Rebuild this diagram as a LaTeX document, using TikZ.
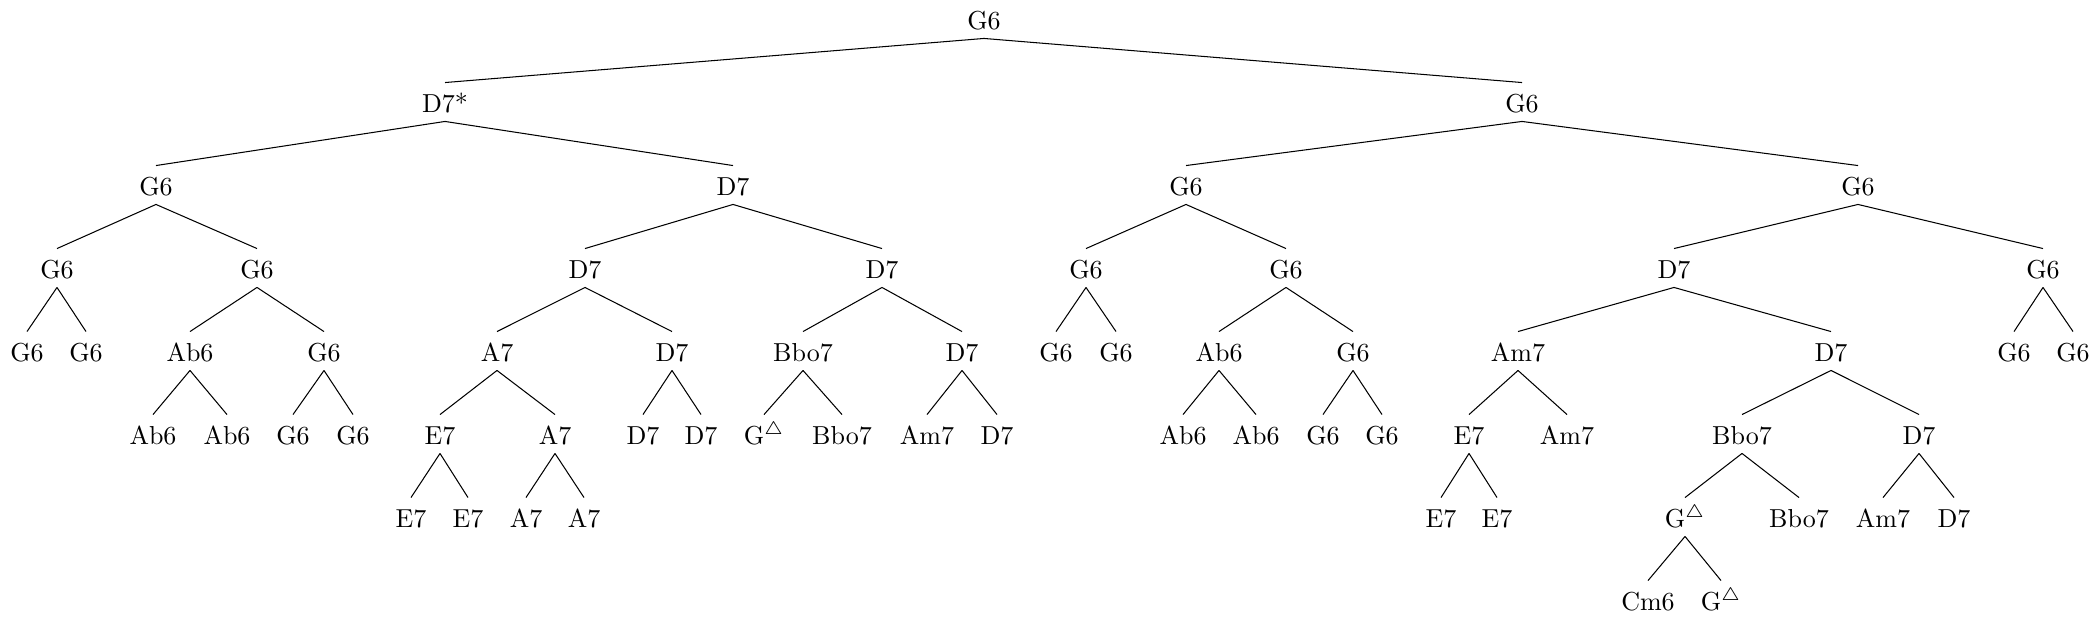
\documentclass[tikz,border=0pt]{standalone}
\usepackage{amssymb}
\begin{document}
\begin{tikzpicture}[x=0.3846pt,y=-0.3846pt,
  chord/.style={anchor=base, inner sep=3.33pt, text height=7.8pt, text depth=0.1pt},
  edge/.style={line width=0.4pt}]
\useasboundingbox (0,0) rectangle (2099,619);
% level 0
\node[chord] (r) at (984,29) {G6};
% level 1
\node[chord] (a) at (445,112) {D7*};
\node[chord] (b) at (1522,112) {G6};
% level 2
\node[chord] (aa) at (156,195) {G6};
\node[chord] (ab) at (733,195) {D7};
\node[chord] (ba) at (1186,195) {G6};
\node[chord] (bb) at (1858,195) {G6};
% level 3
\node[chord] (aaa) at (57,278) {G6};
\node[chord] (aab) at (257,278) {G6};
\node[chord] (aba) at (585,278) {D7};
\node[chord] (abb) at (882,278) {D7};
\node[chord] (baa) at (1086,278) {G6};
\node[chord] (bab) at (1286,278) {G6};
\node[chord] (bba) at (1674,278) {D7};
\node[chord] (bbb) at (2043,278) {G6};
% level 4
\node[chord] (aaaa) at (27,361) {G6};
\node[chord] (aaab) at (86,361) {G6};
\node[chord] (aaba) at (190,361) {Ab6};
\node[chord] (aabb) at (324,361) {G6};
\node[chord] (abaa) at (497,361) {A7};
\node[chord] (abab) at (672,361) {D7};
\node[chord] (abba) at (803,361) {Bbo7};
\node[chord] (abbb) at (962,361) {D7};
\node[chord] (baaa) at (1056,361) {G6};
\node[chord] (baab) at (1116,361) {G6};
\node[chord] (baba) at (1219,361) {Ab6};
\node[chord] (babb) at (1353,361) {G6};
\node[chord] (bbaa) at (1518,361) {Am7};
\node[chord] (bbab) at (1831,361) {D7};
\node[chord] (bbba) at (2014,361) {G6};
\node[chord] (bbbb) at (2073,361) {G6};
% level 5
\node[chord] (aabaa) at (153,444) {Ab6};
\node[chord] (aabab) at (227,444) {Ab6};
\node[chord] (aabba) at (293,444) {G6};
\node[chord] (aabbb) at (353,444) {G6};
\node[chord] (abaaa) at (440,444) {E7};
\node[chord] (abaab) at (555,444) {A7};
\node[chord] (ababa) at (643,444) {D7};
\node[chord] (ababb) at (701,444) {D7};
\node[chord] (abbaa) at (764,444) {G$^{\triangle}$};
\node[chord] (abbab) at (842,444) {Bbo7};
\node[chord] (abbba) at (927,444) {Am7};
\node[chord] (abbbb) at (997,444) {D7};
\node[chord] (babaa) at (1183,444) {Ab6};
\node[chord] (babab) at (1256,444) {Ab6};
\node[chord] (babba) at (1323,444) {G6};
\node[chord] (babbb) at (1382,444) {G6};
\node[chord] (bbaaa) at (1469,444) {E7};
\node[chord] (bbaab) at (1567,444) {Am7};
\node[chord] (bbaba) at (1742,444) {Bbo7};
\node[chord] (bbabb) at (1919,444) {D7};
% level 6
\node[chord] (abaaaa) at (411,527) {E7};
\node[chord] (abaaab) at (468,527) {E7};
\node[chord] (abaaba) at (526,527) {A7};
\node[chord] (abaabb) at (584,527) {A7};
\node[chord] (bbaaaa) at (1441,527) {E7};
\node[chord] (bbaaab) at (1497,527) {E7};
\node[chord] (bbabaa) at (1685,527) {G$^{\triangle}$};
\node[chord] (bbabab) at (1799,527) {Bbo7};
\node[chord] (bbabba) at (1883,527) {Am7};
\node[chord] (bbabbb) at (1954,527) {D7};
% level 7
\node[chord] (bbabaaa) at (1648,610) {Cm6};
\node[chord] (bbabaab) at (1721,610) {G$^{\triangle}$};
% edges
\foreach \p/\c in {r/a,r/b,
  a/aa,a/ab,b/ba,b/bb,
  aa/aaa,aa/aab,ab/aba,ab/abb,ba/baa,ba/bab,bb/bba,bb/bbb,
  aaa/aaaa,aaa/aaab,aab/aaba,aab/aabb,aba/abaa,aba/abab,abb/abba,abb/abbb,
  baa/baaa,baa/baab,bab/baba,bab/babb,bba/bbaa,bba/bbab,bbb/bbba,bbb/bbbb,
  aaba/aabaa,aaba/aabab,aabb/aabba,aabb/aabbb,abaa/abaaa,abaa/abaab,
  abab/ababa,abab/ababb,abba/abbaa,abba/abbab,abbb/abbba,abbb/abbbb,
  baba/babaa,baba/babab,babb/babba,babb/babbb,bbaa/bbaaa,bbaa/bbaab,
  bbab/bbaba,bbab/bbabb,
  abaaa/abaaaa,abaaa/abaaab,abaab/abaaba,abaab/abaabb,
  bbaaa/bbaaaa,bbaaa/bbaaab,bbaba/bbabaa,bbaba/bbabab,bbabb/bbabba,bbabb/bbabbb,
  bbabaa/bbabaaa,bbabaa/bbabaab}
  \draw[edge] (\p.south) -- (\c.north);
\end{tikzpicture}
\end{document}
